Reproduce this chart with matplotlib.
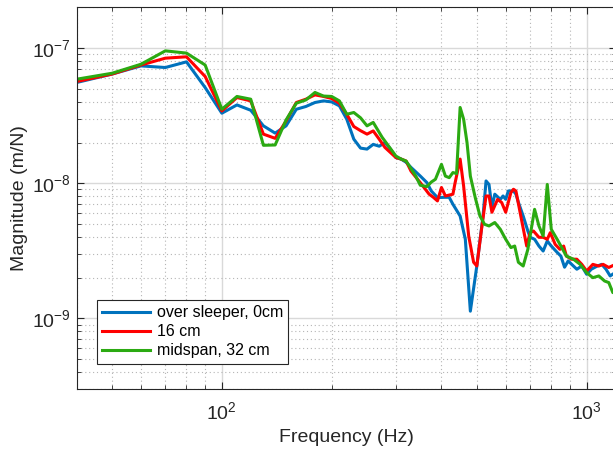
import numpy as np
import matplotlib
matplotlib.use("Agg")
import matplotlib.pyplot as plt
from matplotlib.ticker import LogLocator, NullFormatter

plt.rcParams.update({
    "font.family": ["Liberation Sans", "DejaVu Sans"],
    "mathtext.default": "regular",
})

# over sleeper, 0cm
freq_blue = [40, 50, 60, 70, 80, 90, 100, 110, 120, 130, 140, 150, 160, 170, 180, 190,
             200, 210, 220, 230, 240, 250, 260, 270, 280, 290, 300, 310, 320, 330, 350,
             365, 375, 390, 410, 420, 430, 450, 465, 480, 500, 520, 530, 540, 550, 560,
             580, 590, 600, 610, 630, 640, 650, 670, 690, 700, 720, 740, 760, 780, 800,
             830, 850, 870, 890, 910, 940, 970, 1000, 1030, 1070, 1100, 1130, 1160, 1200]
mag_blue = [5.57e-8, 6.43e-8, 7.39e-8, 7.19e-8, 7.92e-8, 5.11e-8, 3.30e-8, 3.80e-8, 3.47e-8,
            2.66e-8, 2.35e-8, 2.66e-8, 3.53e-8, 3.70e-8, 3.96e-8, 4.07e-8, 4.00e-8, 3.74e-8,
            2.98e-8, 2.12e-8, 1.82e-8, 1.79e-8, 1.94e-8, 1.88e-8, 2.00e-8, 1.79e-8, 1.55e-8,
            1.51e-8, 1.43e-8, 1.31e-8, 1.13e-8, 1.01e-8, 8.77e-9, 7.84e-9, 7.87e-9, 7.87e-9,
            6.99e-9, 5.72e-9, 3.85e-9, 1.13e-9, 2.44e-9, 5.72e-9, 1.04e-8, 9.80e-9, 6.60e-9,
            8.30e-9, 7.60e-9, 8.05e-9, 7.60e-9, 8.77e-9, 8.77e-9, 8.30e-9, 7.23e-9, 5.72e-9,
            4.43e-9, 3.98e-9, 3.85e-9, 3.43e-9, 3.15e-9, 3.74e-9, 3.43e-9, 3.08e-9, 2.89e-9,
            2.39e-9, 2.66e-9, 2.51e-9, 2.31e-9, 2.44e-9, 2.12e-9, 2.31e-9, 2.44e-9, 2.51e-9,
            2.31e-9, 2.06e-9, 2.19e-9]

# 16 cm
freq_red = [40, 50, 60, 70, 80, 90, 100, 110, 120, 130, 140, 150, 160, 170, 180, 190,
            200, 210, 220, 230, 240, 250, 260, 270, 280, 300, 310, 320, 330, 350, 370,
            380, 390, 400, 410, 430, 435, 450, 460, 475, 490, 500, 515, 530, 540, 550,
            570, 585, 600, 620, 630, 640, 660, 685, 700, 715, 740, 760, 780, 795, 820,
            845, 865, 880, 910, 940, 970, 1000, 1040, 1080, 1110, 1150, 1200]
mag_red = [5.66e-8, 6.43e-8, 7.50e-8, 8.43e-8, 8.63e-8, 6.17e-8, 3.43e-8, 4.31e-8, 4.07e-8,
           2.31e-8, 2.15e-8, 2.89e-8, 3.96e-8, 4.19e-8, 4.51e-8, 4.39e-8, 4.24e-8, 3.91e-8,
           3.24e-8, 2.63e-8, 2.45e-8, 2.31e-8, 2.44e-8, 2.12e-8, 1.84e-8, 1.55e-8, 1.51e-8,
           1.46e-8, 1.23e-8, 1.01e-8, 8.30e-9, 7.87e-9, 7.40e-9, 9.30e-9, 8.05e-9, 8.30e-9,
           9.80e-9, 1.51e-8, 9.55e-9, 4.07e-9, 2.60e-9, 2.44e-9, 4.56e-9, 8.05e-9, 8.05e-9,
           6.10e-9, 7.60e-9, 7.20e-9, 6.10e-9, 8.53e-9, 9.03e-9, 8.77e-9, 5.72e-9, 3.43e-9,
           4.31e-9, 4.43e-9, 3.98e-9, 3.98e-9, 3.85e-9, 4.31e-9, 3.53e-9, 3.24e-9, 3.43e-9,
           2.89e-9, 2.74e-9, 2.74e-9, 2.51e-9, 2.24e-9, 2.51e-9, 2.44e-9, 2.51e-9, 2.38e-9,
           2.51e-9]

# midspan, 32 cm
freq_green = [40, 50, 60, 70, 80, 90, 100, 110, 120, 130, 140, 150, 160, 170, 180, 190,
              200, 210, 220, 230, 240, 250, 260, 275, 300, 310, 320, 340, 350, 365, 375,
              385, 400, 410, 420, 430, 440, 450, 460, 470, 480, 495, 510, 525, 540, 560,
              580, 600, 620, 635, 650, 670, 690, 720, 740, 760, 780, 800, 830, 850, 880,
              920, 960, 1000, 1040, 1080, 1120, 1150, 1180, 1200]
mag_green = [5.89e-8, 6.52e-8, 7.60e-8, 9.55e-8, 9.19e-8, 7.50e-8, 3.53e-8, 4.39e-8, 4.19e-8,
             1.91e-8, 1.92e-8, 2.94e-8, 3.91e-8, 4.14e-8, 4.70e-8, 4.42e-8, 4.39e-8, 4.07e-8,
             3.24e-8, 3.34e-8, 3.05e-8, 2.66e-8, 2.82e-8, 2.19e-8, 1.59e-8, 1.51e-8, 1.46e-8,
             1.13e-8, 9.66e-9, 9.45e-9, 1.02e-8, 1.07e-8, 1.38e-8, 1.13e-8, 1.10e-8, 1.20e-8,
             1.18e-8, 3.64e-8, 2.98e-8, 2.00e-8, 1.13e-8, 7.84e-9, 5.72e-9, 4.97e-9, 4.83e-9,
             5.12e-9, 4.56e-9, 3.85e-9, 3.34e-9, 3.43e-9, 2.60e-9, 2.44e-9, 3.24e-9, 6.41e-9,
             4.83e-9, 4.07e-9, 9.80e-9, 4.56e-9, 3.85e-9, 3.43e-9, 2.89e-9, 2.74e-9, 2.51e-9,
             2.18e-9, 2.00e-9, 2.06e-9, 1.89e-9, 1.84e-9, 1.55e-9, 1.64e-9]

labels = ["over sleeper, 0cm", "16 cm", "midspan, 32 cm"]
x_ticks = [100, 1000]
y_ticks = [1e-9, 1e-8, 1e-7]

fig = plt.figure(figsize=(6.13, 4.51), dpi=100)
ax = fig.add_axes([0.1251, 0.1375, 0.879, 0.8459])

ax.loglog(freq_blue, mag_blue, color="#0072BD", lw=2.2, label=labels[0])
ax.loglog(freq_red, mag_red, color="#FF0000", lw=2.2, label=labels[1])
ax.loglog(freq_green, mag_green, color="#2BAA12", lw=2.2, label=labels[2])

ax.set_xlim(40, 1200)
ax.set_ylim(3e-10, 2e-7)

ax.set_xticks(x_ticks)
ax.set_yticks(y_ticks)
ax.xaxis.set_minor_locator(LogLocator(base=10, subs=np.arange(2, 10), numticks=20))
ax.xaxis.set_minor_formatter(NullFormatter())
ax.yaxis.set_minor_locator(LogLocator(base=10, subs=np.arange(2, 10), numticks=20))
ax.yaxis.set_minor_formatter(NullFormatter())

ax.grid(True, which="major", color="#d9d9d9", lw=1.0, ls="-")
ax.grid(True, which="minor", color="#b5b5b5", lw=0.8, ls=(0, (1, 2.5)))
ax.set_axisbelow(True)

ax.tick_params(which="both", direction="in", top=True, right=True, labelsize=14,
               color="#262626", labelcolor="#262626")
ax.tick_params(which="major", length=5)
ax.tick_params(axis="x", which="major", pad=9)
ax.tick_params(axis="y", which="major", pad=4)
ax.tick_params(which="minor", length=3)
for sp in ax.spines.values():
    sp.set_color("#262626")
    sp.set_linewidth(0.8)

ax.set_xlabel("Frequency (Hz)", fontsize=14, color="#262626", labelpad=4)
ax.set_ylabel("Magnitude (m/N)", fontsize=14, color="#262626", labelpad=3)

leg = ax.legend(loc="lower left", bbox_to_anchor=(0.037, 0.0655), borderaxespad=0,
                fontsize=11.5, handlelength=3.0, handletextpad=0.4, borderpad=0.35,
                labelspacing=0.25, fancybox=False, framealpha=1, edgecolor="#262626")
leg.get_frame().set_linewidth(0.8)

fig.savefig("out.png", dpi=100)
